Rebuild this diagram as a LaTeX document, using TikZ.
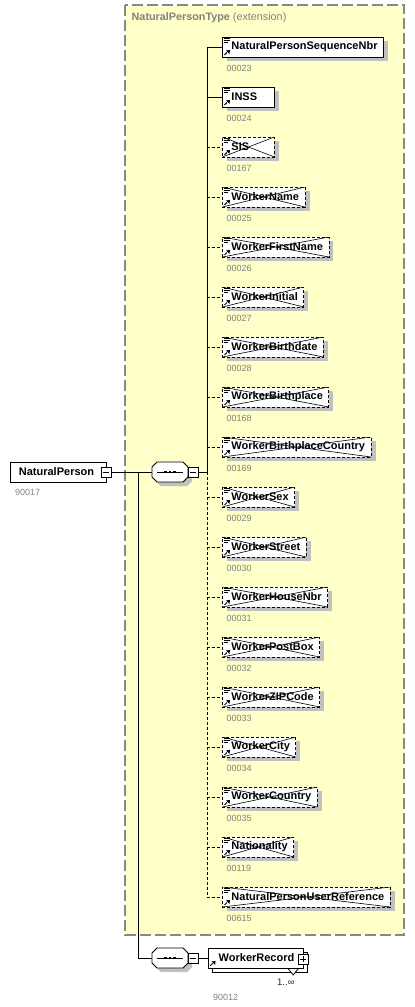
\documentclass[tikz,border=0pt]{standalone}
\usepackage{fontspec}
\setmainfont{Liberation Sans}
\usetikzlibrary{shadows}
\definecolor{ybg}{RGB}{255,255,200}
\definecolor{framec}{RGB}{136,136,136}
\definecolor{shad}{RGB}{192,192,192}
\definecolor{lbl}{RGB}{128,128,128}
\definecolor{occc}{RGB}{30,30,80}
\newsavebox\elb
\newcommand\eltext[1]{\sbox\elb{#1}\ifdim\wd\elb<37pt\makebox[37pt][l]{\usebox\elb}\else\usebox\elb\fi}
\tikzset{
  elbox/.style={draw=black, fill=white, line width=0.9pt, minimum height=20pt, inner xsep=6pt, inner ysep=0pt, anchor=west,
    font=\fontsize{11}{13}\selectfont\bfseries,
    drop shadow={shadow xshift=4.5pt, shadow yshift=-4pt, fill=shad, opacity=1}},
  optbox/.style={elbox, dash pattern=on 3pt off 2pt,
    path picture={\draw[solid, line width=0.6pt] (path picture bounding box.north west) -- (path picture bounding box.south east)
      (path picture bounding box.south west) -- (path picture bounding box.north east);}},
  numlbl/.style={anchor=west, inner sep=0pt, text=lbl, font=\fontsize{9}{11}\selectfont},
  iconln/.style={line width=0.7pt},
  conn/.style={line width=0.9pt},
  dconn/.style={line width=0.9pt, dash pattern=on 3pt off 2pt},
  npbox/.style={draw=black, fill=white, line width=0.9pt, minimum width=96pt, minimum height=20pt, inner sep=0pt,
    font=\fontsize{11}{13}\selectfont\bfseries},
  seqbox/.style={rectangle, minimum width=36pt, minimum height=20pt, inner sep=0pt, outer sep=0pt},
  minusbox/.style={draw=black, fill=white, line width=0.8pt, minimum size=10pt, inner sep=0pt,
    path picture={\draw[line width=0.8pt] ([xshift=2pt]path picture bounding box.west) -- ([xshift=-2pt]path picture bounding box.east);}},
  plusbox/.style={minusbox,
    path picture={\draw[line width=0.8pt] ([xshift=2pt]path picture bounding box.west) -- ([xshift=-2pt]path picture bounding box.east)
      ([yshift=-2pt]path picture bounding box.north) -- ([yshift=2pt]path picture bounding box.south);}},
  wrbox/.style={draw=black, fill=white, line width=0.9pt, minimum width=95pt, minimum height=20pt, inner xsep=8.5pt, inner ysep=0pt,
    font=\fontsize{11}{13}\selectfont\bfseries,
    copy shadow={shadow xshift=4pt, shadow yshift=-4pt}},
}
\newcommand\ElIcons[1]{%
  \draw[iconln] ([shift={(2,1.8)}]#1.north west) -- ++(5.5,0)
                ([shift={(2,3.8)}]#1.north west) -- ++(5.5,0)
                ([shift={(2,5.8)}]#1.north west) -- ++(4,0);
  \draw[line width=1pt] ([shift={(2.5,-2.5)}]#1.south west) -- ([shift={(5,-5)}]#1.south west);
  \fill ([shift={(8,-7.5)}]#1.south west) -- ([shift={(4,-7)}]#1.south west) -- ([shift={(7.5,-3.5)}]#1.south west) -- cycle;
}
\newcommand\El[5]{%
  \node[#5] (#1) at (222,#2) {\hspace*{3pt}\eltext{#3}};
  \node[numlbl] (#1n) at (226.5,#2+21.5) {#4};
  \ElIcons{#1}
}
% octagon of a sequence compositor, around node #1
\newcommand\SeqShape[1]{%
  \fill[shad] ([shift={(-14,-1)}]#1.center) -- ([shift={(-9,-6)}]#1.center) -- ([shift={(17,-6)}]#1.center) -- ([shift={(22,-1)}]#1.center)
     -- ([shift={(22,9)}]#1.center) -- ([shift={(17,14)}]#1.center) -- ([shift={(-9,14)}]#1.center) -- ([shift={(-14,9)}]#1.center) -- cycle;
  \filldraw[fill=white, draw=black, line width=0.9pt]
     ([shift={(-18,-5)}]#1.center) -- ([shift={(-13,-10)}]#1.center) -- ([shift={(13,-10)}]#1.center) -- ([shift={(18,-5)}]#1.center)
     -- ([shift={(18,5)}]#1.center) -- ([shift={(13,10)}]#1.center) -- ([shift={(-13,10)}]#1.center) -- ([shift={(-18,5)}]#1.center) -- cycle;
  \draw[line width=0.9pt] ([xshift=5pt]#1.west) -- ([xshift=-5pt]#1.east);
  \fill ([shift={(-5.7,-1.3)}]#1.center) rectangle ([shift={(-3.3,1.3)}]#1.center);
  \fill ([shift={(-1.2,-1.3)}]#1.center) rectangle ([shift={(1.2,1.3)}]#1.center);
  \fill ([shift={(3.3,-1.3)}]#1.center) rectangle ([shift={(5.7,1.3)}]#1.center);
}
\begin{document}
\begin{tikzpicture}[x=1pt,y=-1pt]
\useasboundingbox (0,0) rectangle (415,1007);
% extension frame
\draw[fill=ybg, draw=framec, line width=1.1pt, dash pattern=on 11pt off 4pt] (125,5) rectangle (404,935);
\node[anchor=west, inner sep=0pt, text=lbl, font=\fontsize{10.8}{13}\selectfont] (hdr) at (131.5,18) {\textbf{NaturalPersonType} (extension)};

% children
\El{e1}{47}{NaturalPersonSequenceNbr}{00023}{elbox}
\El{e2}{97}{INSS}{00024}{elbox}
\El{e3}{147}{SIS}{00167}{optbox}
\El{e4}{197}{WorkerName}{00025}{optbox}
\El{e5}{247}{WorkerFirstName}{00026}{optbox}
\El{e6}{297}{WorkerInitial}{00027}{optbox}
\El{e7}{347}{WorkerBirthdate}{00028}{optbox}
\El{e8}{397}{WorkerBirthplace}{00168}{optbox}
\El{e9}{447}{WorkerBirthplaceCountry}{00169}{optbox}
\El{e10}{497}{WorkerSex}{00029}{optbox}
\El{e11}{547}{WorkerStreet}{00030}{optbox}
\El{e12}{597}{WorkerHouseNbr}{00031}{optbox}
\El{e13}{647}{WorkerPostBox}{00032}{optbox}
\El{e14}{697}{WorkerZIPCode}{00033}{optbox}
\El{e15}{747}{WorkerCity}{00034}{optbox}
\El{e16}{797}{WorkerCountry}{00035}{optbox}
\El{e17}{847}{Nationality}{00119}{optbox}
\El{e18}{897}{NaturalPersonUserReference}{00615}{optbox}

% root element
\node[npbox] (np) at (58,472) {NaturalPerson\hspace*{3pt}};
\node[numlbl] (npn) at (15,492.5) {90017};
\node[minusbox] (npm) at (np.east) {};

% sequence 1
\node[seqbox] (s1) at (170,472) {};
\SeqShape{s1}
\node[minusbox] (s1m) at (193,472) {};
\coordinate (tr) at (207,472);
\coordinate (br) at (138,472);

% sequence 2
\node[seqbox] (s2) at (170,958) {};
\SeqShape{s2}
\node[minusbox] (s2m) at (193,958) {};

% WorkerRecord
\node[wrbox] (wr) at (255.5,958) {\hspace*{2pt}WorkerRecord};
\draw[line width=1pt] ([shift={(2.5,-2.5)}]wr.south west) -- ([shift={(5,-5)}]wr.south west);
\fill ([shift={(8,-7.5)}]wr.south west) -- ([shift={(4,-7)}]wr.south west) -- ([shift={(7.5,-3.5)}]wr.south west) -- cycle;
\node[plusbox] (wrp) at ([yshift=-1pt]wr.east) {};
\draw[line width=0.8pt, fill=white] ([xshift=-15.5pt]wr.south east) -- ([xshift=-5pt]wr.south east) -- ([shift={(-10.25,6.5)}]wr.south east) -- cycle;
\node[anchor=west, inner sep=0pt, text=occc, font=\fontsize{9.5}{11}\selectfont] (occ) at (277,982) {1..∞};
\node[numlbl] (wrn) at (213,997) {90012};

% connectors
\draw[conn] (npm) -- (s1);
\draw[conn] (s1m) -- (tr);
\draw[conn] (br) |- (s2);
\draw[conn] (s2m) -- (wr);
\draw[conn] (tr) |- (e1.west);
\draw[conn] (tr) |- (e2.west);
\foreach \k in {3,...,18} \draw[dconn] (tr) |- (e\k.west);
\end{tikzpicture}
\end{document}
